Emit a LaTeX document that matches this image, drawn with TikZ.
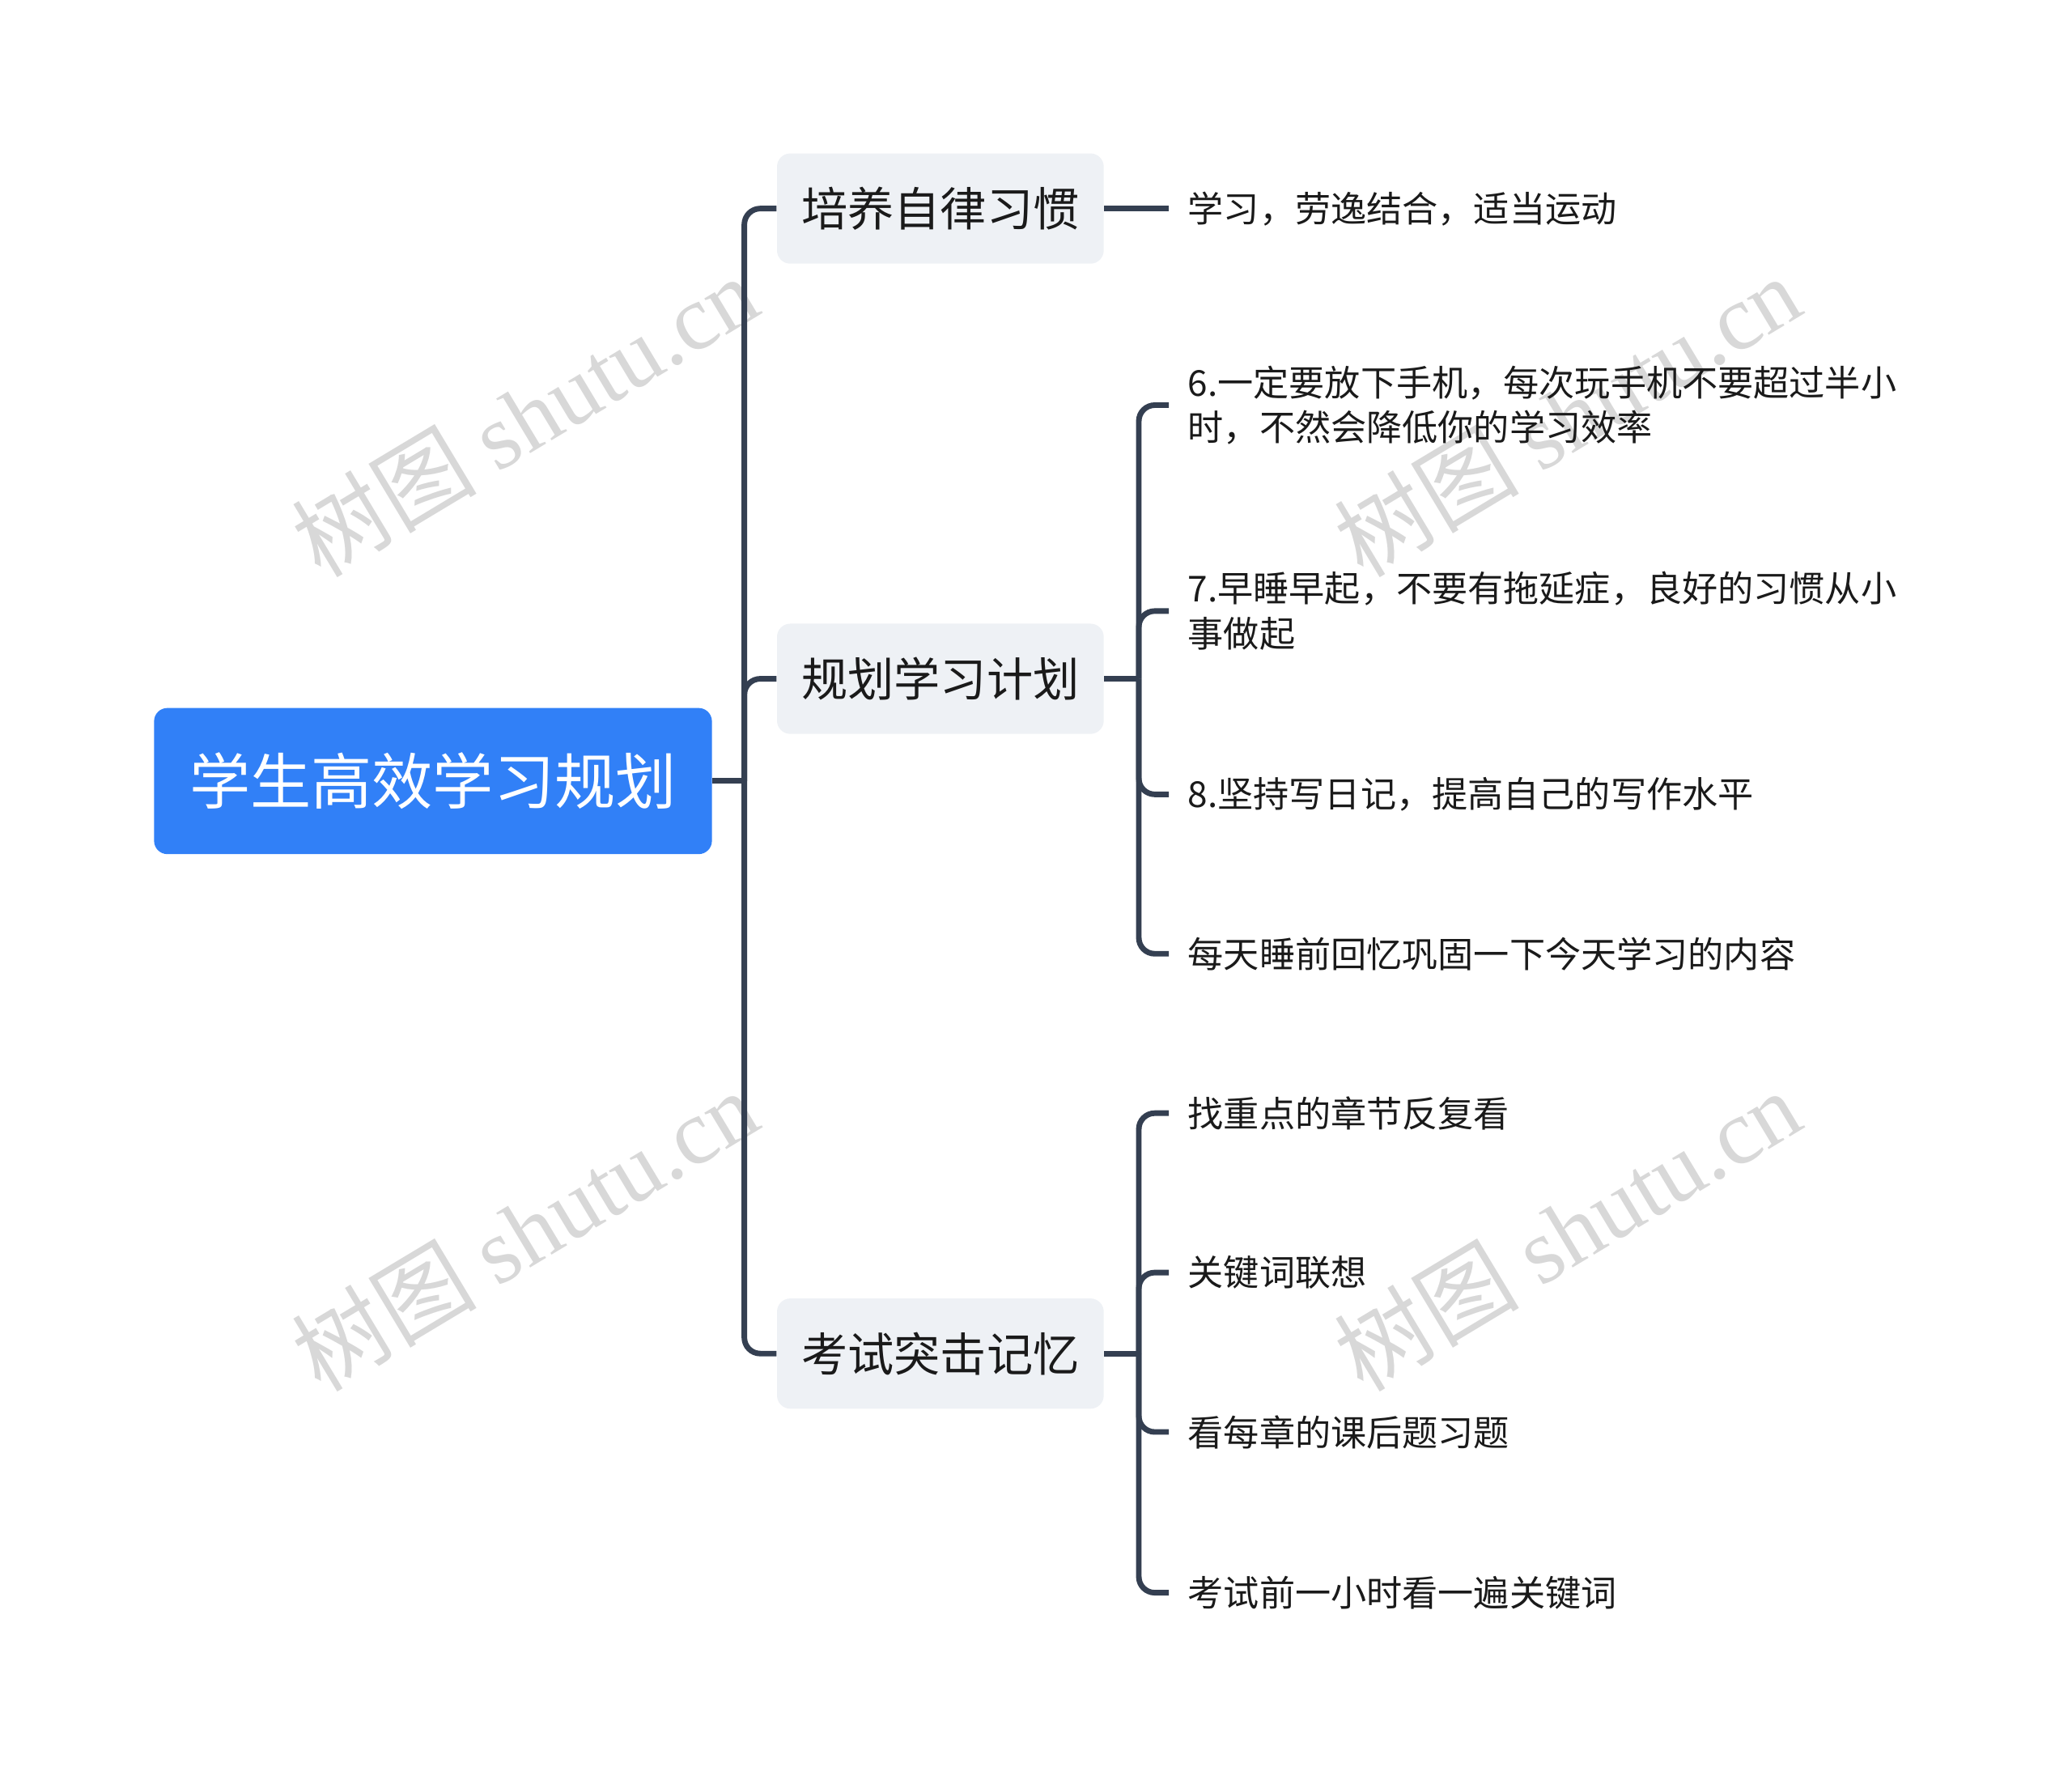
\documentclass[tikz,border=0pt]{standalone}
\usepackage{fontspec}
\setmainfont{Noto Sans CJK SC}
\newfontfamily\cjk{Noto Sans CJK SC}
\newfontfamily\wmcjk{Noto Sans CJK SC Light}
\newfontfamily\wmserif{Liberation Serif}
\usetikzlibrary{calc}
\definecolor{rootblue}{HTML}{3180F7}
\definecolor{subfill}{HTML}{EEF1F5}
\definecolor{linec}{HTML}{343F51}
\definecolor{wm}{HTML}{D8D8D8}
\definecolor{txt}{HTML}{1A1A1A}
\begin{document}
\begin{tikzpicture}[x=0.5bp,y=-0.5bp,
  rootbox/.style={fill=rootblue, rounded corners=5bp, minimum width=210bp, minimum height=55bp, text=white, font=\cjk\fontsize{23}{28}\selectfont, inner sep=0pt},
  subbox/.style={fill=subfill, rounded corners=5bp, minimum width=123bp, minimum height=41.5bp, font=\cjk\fontsize{17.5}{21}\selectfont, text=txt, inner sep=0pt},
  leaf/.style={anchor=west, inner xsep=7bp, inner ysep=2bp, align=left, font=\cjk\fontsize{13.5}{17}\selectfont, text=txt},
  conn/.style={draw=linec, line width=2.1bp, rounded corners=6bp},
  wmark/.style={text=wm, rotate=31, inner sep=0pt, font=\fontsize{35}{40}\selectfont}
]
\useasboundingbox (0,0) rectangle (1560,1340);

% watermarks
\node[wmark] (w1) at (395,313) {\cjk 树图 \wmserif shutu.cn};
\node[wmark] (w2) at (1180,313) {\cjk 树图 \wmserif shutu.cn};
\node[wmark] (w3) at (395,926) {\cjk 树图 \wmserif shutu.cn};
\node[wmark] (w4) at (1180,926) {\cjk 树图 \wmserif shutu.cn};

% root and branches
\node[rootbox] (root) at (326,588) {学生高效学习规划};
\node[subbox] (b1) at (708,157) {培养自律习惯};
\node[subbox] (b2) at (708,511) {规划学习计划};
\node[subbox] (b3) at (708,1019) {考试突击记忆};

% leaves
\node[leaf] (l1) at (880,157) {学习，劳逸结合，适当运动};
\node[leaf] (l2) at (880,305) {6.一定要放下手机，每次玩手机不要超过半小\\时，不然会降低你的学习效率};
\node[leaf] (l3) at (880,460) {7.早睡早起，不要有拖延症，良好的习惯从小\\事做起};
\node[leaf] (l4) at (880,598) {8.坚持写日记，提高自己的写作水平};
\node[leaf] (l5) at (880,718) {每天睡前回忆巩固一下今天学习的内容};
\node[leaf] (l6) at (880,838) {找重点的章节反复看};
\node[leaf] (l7) at (880,958) {关键词联想};
\node[leaf] (l8) at (880,1078) {看每章的课后题习题};
\node[leaf] (l9) at (880,1199) {考试前一小时看一遍关键词};

% junctions
\coordinate (t0) at ($(root.east)+(24,0)$);
\coordinate (t2) at ($(b2.east)+(26,0)$);
\coordinate (t3) at ($(b3.east)+(26,0)$);

% connectors
\draw[conn] (root.east) -- (t0);
\draw[conn] (t0) |- (b1.west);
\draw[conn] (t0) |- (b2.west);
\draw[conn] (t0) |- (b3.west);

\draw[conn] (b1.east) -- (l1.west);

\draw[conn] (b2.east) -- (t2);
\draw[conn] (t2) |- (l2.west);
\draw[conn] (t2) |- (l3.west);
\draw[conn] (t2) |- (l4.west);
\draw[conn] (t2) |- (l5.west);

\draw[conn] (b3.east) -- (t3);
\draw[conn] (t3) |- (l6.west);
\draw[conn] (t3) |- (l7.west);
\draw[conn] (t3) |- (l8.west);
\draw[conn] (t3) |- (l9.west);
\end{tikzpicture}
\end{document}
